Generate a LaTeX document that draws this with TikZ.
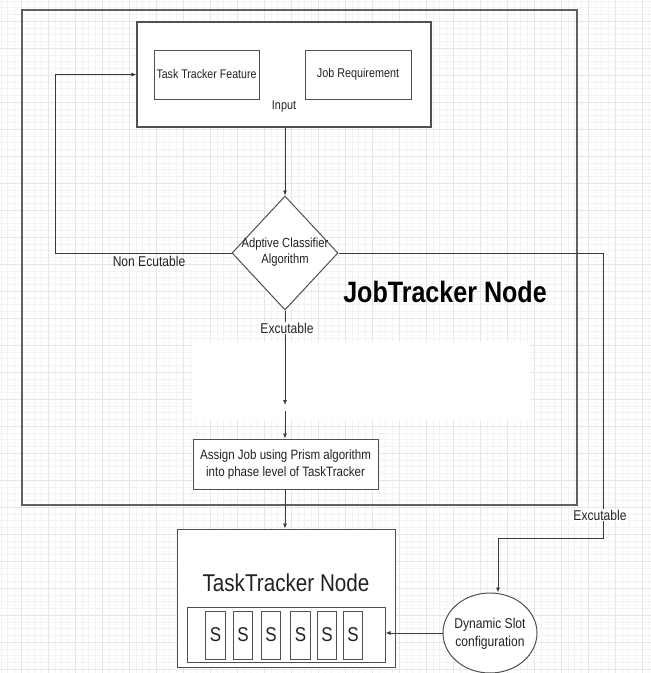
\documentclass[tikz,border=0pt]{standalone}
\usepackage{fontspec}
\setmainfont{Liberation Sans}[FakeStretch=0.85]
\usetikzlibrary{shapes.geometric,arrows.meta}
\definecolor{ln}{HTML}{3A3A3A}
\definecolor{bx}{HTML}{505050}
\definecolor{ob}{HTML}{606060}
\definecolor{txt}{HTML}{222222}
\definecolor{gmin}{HTML}{F3F3F3}
\definecolor{gmaj}{HTML}{E6E6E6}
\tikzset{
  box/.style={draw=bx, line width=1pt, fill=white, inner sep=0pt},
  conn/.style={draw=ln, line width=0.8pt, -{Latex[length=5pt,width=4pt]}},
  plain/.style={draw=ln, line width=0.8pt},
  lbl/.style={text=txt, inner sep=1pt, align=center},
  sbox/.style={box, line width=0.9pt, minimum width=19.5pt, minimum height=48pt, font=\fontsize{20}{20}\selectfont, text=txt},
}
\begin{document}
\begin{tikzpicture}[x=1pt,y=-1pt]
\useasboundingbox (0,0) rectangle (651,673);
% background grid
\fill[white] (0,0) rectangle (651,673);
\foreach \i in {0,...,99} {
  \draw[gmin, line width=0.4pt] ({\i*6.75-6},0) -- ({\i*6.75-6},673);
  \draw[gmin, line width=0.4pt] (0,{\i*6.75-6}) -- (651,{\i*6.75-6});
}
\foreach \i in {0,...,25} {
  \draw[gmaj, line width=0.5pt] ({\i*27-6},0) -- ({\i*27-6},673);
  \draw[gmaj, line width=0.5pt] (0,{\i*27-6}) -- (651,{\i*27-6});
}
\fill[white] (192,342) rectangle (530,420);

% outer JobTracker box
\node[draw=ob, line width=1.6pt, inner sep=0pt, minimum width=555pt, minimum height=495pt] (outer) at (299.5,257.5) {};
\node[lbl, text=black, font=\fontsize{29.5}{29.5}\selectfont\bfseries, anchor=base] (jtn) at (445,302) {JobTracker Node};

% input box
\node[box, line width=1.2pt, minimum width=294pt, minimum height=105pt] (inbox) at (284,74.5) {};
\node[box, minimum width=105pt, minimum height=49pt, font=\fontsize{12.5}{14}\selectfont, text=txt] (ttf) at (206.5,74.5) {Task Tracker Feature};
\node[box, minimum width=106pt, minimum height=49pt, font=\fontsize{12.7}{14}\selectfont, text=txt] (jr) at (358,74.5) {Job Requirement};
\node[lbl, font=\fontsize{12.7}{14}\selectfont] (inlbl) at (284,106) {Input};

% diamond
\node[box, shape=diamond, minimum width=106pt, minimum height=114pt] (dia) at (285,253) {};
\node[lbl, font=\fontsize{13.2}{16}\selectfont] (dialbl) at (285,252) {Adptive Classifier\\Algorithm};

% assign box
\node[box, minimum width=185pt, minimum height=50pt, font=\fontsize{13.6}{17}\selectfont, text=txt, align=center] (assign) at (285.5,464) {Assign Job using Prism algorithm\\into phase level of TaskTracker};

% TaskTracker node
\node[box, minimum width=218pt, minimum height=138pt] (tt) at (286,598) {};
\node[lbl, font=\fontsize{24.3}{24.3}\selectfont] (ttl) at (286,583) {TaskTracker Node};
\node[box, minimum width=198pt, minimum height=55pt] (slots) at (286,634.5) {};
\node[sbox] (s1) at (215.5,635) {S};
\node[sbox] (s2) at (243,635) {S};
\node[sbox] (s3) at (271,635) {S};
\node[sbox] (s4) at (300.5,635) {S};
\node[sbox] (s5) at (327,635) {S};
\node[sbox] (s6) at (353,635) {S};

% dynamic slot circle
\node[box, shape=ellipse, minimum width=94pt, minimum height=80pt] (circ) at (490,633) {};
\node[lbl, font=\fontsize{14.2}{17.5}\selectfont] (circlbl) at (490,634) {Dynamic Slot\\configuration};

% connectors
\coordinate (l1) at (55,253);
\coordinate (r1) at (603,538);
\coordinate (r2) at (498,538);
\coordinate (m1) at (285,405);
\coordinate (m2) at (285,411);

\draw[conn] (inbox.south -| dia.north) -- (dia.north);
\draw[conn] (dia.west) -- (l1) -- (l1 |- ttf.west) -- (inbox.west |- ttf.west);
\node[lbl, font=\fontsize{14.2}{15}\selectfont] (nonex) at (149,261) {Non Ecutable};
\draw[conn] (dia.south) -- (m1);
\node[lbl, fill=white, font=\fontsize{14.2}{15}\selectfont] (ex1) at (287,328) {Excutable};
\draw[conn] (m2) -- (m2 |- assign.north);
\draw[conn] (assign.south -| m2) -- (m2 |- tt.north);
\draw[conn] (dia.east) -| (r1) -- (r2) -- (r2 |- circ.north);
\node[lbl, fill=white, font=\fontsize{14.2}{15}\selectfont] (ex2) at (600,515) {Excutable};
\draw[conn] (circ.west) -- (slots.east |- circ.west);
\end{tikzpicture}
\end{document}
